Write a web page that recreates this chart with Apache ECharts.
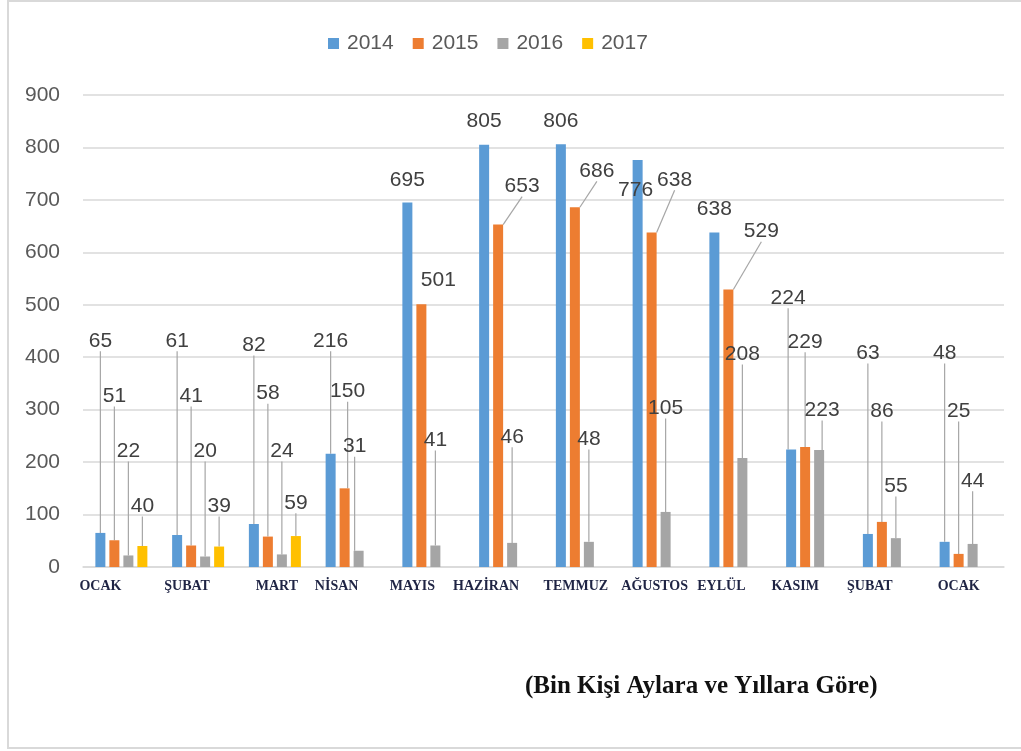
<!DOCTYPE html>
<html>
<head>
<meta charset="utf-8">
<script src="https://cdn.jsdelivr.net/npm/echarts@6/dist/echarts.min.js"></script>
<style>
  html, body { margin: 0; padding: 0; background: #fff; }
  #main { width: 1021px; height: 751px; }
</style>
</head>
<body>
<div id="main"></div>
<script>
// aylar (kategori)
var categories = ['OCAK', 'ŞUBAT', 'MART', 'NİSAN', 'MAYIS', 'HAZİRAN', 'TEMMUZ', 'AĞUSTOS', 'EYLÜL', 'KASIM', 'ŞUBAT', 'OCAK'];
var years = ['2014', '2015', '2016', '2017'];
// bin kişi
var v2014 = [65, 61, 82, 216, 695, 805, 806, 776, 638, 224, 63, 48];
var v2015 = [51, 41, 58, 150, 501, 653, 686, 638, 529, 229, 86, 25];
var v2016 = [22, 20, 24, 31, 41, 46, 48, 105, 208, 223, 55, 44];
var v2017 = [40, 39, 59, null, null, null, null, null, null, null, null, null];
var yTicks = [0, 100, 200, 300, 400, 500, 600, 700, 800, 900];

// etiket yerleşimi: [x kayması px, etiket yüksekliği (eksen değeri)]
var lbl2014 = [[0,437],[0,437],[0,429],[0,437],[0,744],[0,856],[0,856],[-2,725],[0,688],[-3,519],[0,414],[0,414]];
var lbl2015 = [[0,332],[0,332],[0,337],[3,341],[17,553],[24,732],[22,761],[23,744],[33,646],[0,435],[0,303],[0,303]];
var lbl2016 = [[0,227],[0,227],[0,227],[-4,236],[0,248],[0,254],[0,250],[0,309],[0,412],[3,305],[0,160],[0,170]];
var lbl2017 = [[0,122],[0,122],[0,128]];
var noLine = [[4,5,6,7,8],[4],[],[]];
// x etiketleri kayması (px)
var xShift = [-21, -11, 2, -15, -16, -19, -6, -4, -14, -17, -19, -7];

var colors = ['#5B9BD5', '#ED7D31', '#A5A5A5', '#FFC000'];
var allVals = [v2014, v2015, v2016, v2017];
var allLbl = [lbl2014, lbl2015, lbl2016, lbl2017];

var myChart = echarts.init(document.getElementById('main'));

var xData = categories.map(function (c, i) {
  var s = xShift[i];
  var pad = s < 0 ? [0, -2 * s, 0, 0] : [0, 0, 0, 2 * s];
  return { value: c, textStyle: { padding: pad } };
});

function makeSeries(k) {
  return {
    name: years[k],
    type: 'bar',
    barWidth: 10,
    barGap: '40%',
    itemStyle: { color: colors[k] },
    data: allVals[k].map(function (v, i) {
      var d = { value: v };
      if (noLine[k].indexOf(i) >= 0) d.labelLine = { show: false };
      return d;
    }),
    label: {
      show: true,
      position: 'top',
      color: '#404040',
      fontSize: 21,
      fontFamily: 'Liberation Sans, Arial, sans-serif',
      padding: [0, 0, 7, 0]
    },
    labelLine: {
      show: true,
      length2: 0,
      lineStyle: { color: '#a6a6a6', width: 1.2 }
    }
  };
}

var option = {
  animation: false,
  backgroundColor: '#fff',
  title: {
    text: '(Bin Kişi Aylara ve Yıllara Göre)',
    left: 520,
    top: 669,
    textStyle: { fontFamily: 'Liberation Serif, Times New Roman, serif', fontWeight: 'bold', fontSize: 25, color: '#111' }
  },
  legend: {
    data: years,
    left: 323,
    top: 28,
    icon: 'rect',
    itemWidth: 11,
    itemHeight: 11,
    itemGap: 19,
    textStyle: { fontSize: 21, color: '#595959', fontFamily: 'Liberation Sans, Arial, sans-serif', padding: [0, 0, 0, 3] }
  },
  graphic: [{
    type: 'rect',
    shape: { x: 8, y: 1, width: 1040, height: 747 },
    style: { fill: 'none', stroke: '#d9d9d9', lineWidth: 2 },
    silent: true
  }],
  grid: { left: 83, right: 17, top: 95, bottom: 184, containLabel: false, outerBoundsMode: 'none' },
  xAxis: {
    type: 'category',
    data: xData,
    axisLine: { lineStyle: { color: '#d9d9d9', width: 1.5 } },
    axisTick: { show: false },
    axisLabel: {
      interval: 0,
      margin: 12,
      fontSize: 14,
      fontWeight: 'bold',
      fontFamily: 'Liberation Serif, Times New Roman, serif',
      color: '#1f2444'
    }
  },
  yAxis: {
    type: 'value',
    min: yTicks[0],
    max: yTicks[yTicks.length - 1],
    interval: yTicks[1] - yTicks[0],
    axisLine: { show: false },
    axisTick: { show: false },
    axisLabel: { fontSize: 21, color: '#595959', margin: 23, fontFamily: 'Liberation Sans, Arial, sans-serif' },
    splitLine: { lineStyle: { color: '#d9d9d9', width: 1.5 } }
  },
  series: [makeSeries(0), makeSeries(1), makeSeries(2), makeSeries(3)]
};
myChart.setOption(option);

// etiketleri Excel'deki gibi yukarı taşı
var layoutSeries = [0, 1, 2, 3].map(function (k) {
  return {
    labelLayout: function (params) {
      var p = allLbl[k][params.dataIndex];
      if (!p) return {};
      var y = myChart.convertToPixel({ yAxisIndex: 0 }, p[1]);
      return {
        x: params.rect.x + params.rect.width / 2 + p[0],
        y: y + 3,
        align: 'center',
        verticalAlign: 'middle'
      };
    }
  };
});
myChart.setOption({ series: layoutSeries });
</script>
</body>
</html>
